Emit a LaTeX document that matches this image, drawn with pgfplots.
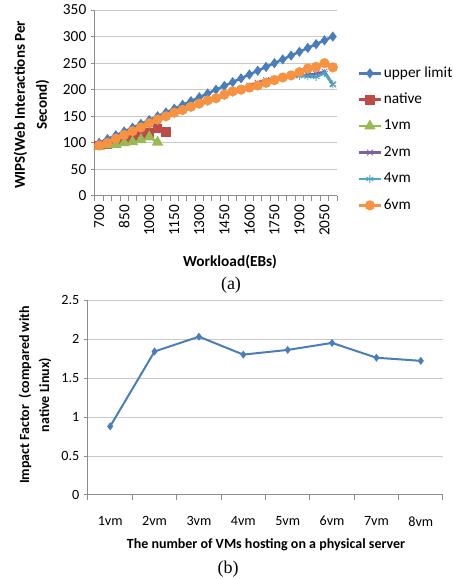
\documentclass[border=0pt]{standalone}
\usepackage{pgfplots}
\pgfplotsset{compat=1.18}
\usepackage{fontspec}
\setmainfont{Carlito}
\newfontfamily\timesfont{Liberation Serif}

\definecolor{xlblue}{HTML}{4A7EBB}
\definecolor{xlred}{HTML}{BE4B48}
\definecolor{xlgreen}{HTML}{98B954}
\definecolor{xlpurple}{HTML}{7D60A0}
\definecolor{xlcyan}{HTML}{46AAC5}
\definecolor{xlorange}{HTML}{F69240}
\definecolor{gridgray}{HTML}{C8C8C8}
\definecolor{axgray}{HTML}{8C8C8C}

\pgfplotsset{
  xlchart/.style={
    scale only axis,
    axis x line=bottom, axis y line=left,
    axis line style={-, axgray, line width=0.75pt},
    ymajorgrids, grid style={gridgray, line width=0.75pt},
    tick align=outside,
    tick style={axgray, line width=0.75pt},
    major x tick style={draw=none},
    major tick length=3pt, minor tick length=3.5pt,
    /pgf/number format/assume math mode=true,
    /pgf/number format/1000 sep={},
    clip=false,
  },
}

\begin{document}
\begin{tikzpicture}
% (a) WIPS against workload
\begin{axis}[xlchart,
  at={(71.25pt,287.25pt)}, anchor=south west,
  width=181.5pt, height=139.5pt,
  xmin=675, xmax=2125, ymin=0, ymax=350,
  xtick={700,850,...,2050},
  minor xtick={675,725,...,2125},
  ytick={0,50,...,350},
  tick label style={font=\fontsize{11.5}{13}\selectfont},
  xticklabel style={rotate=90, anchor=east},
  xlabel={Workload(EBs)},
  xlabel style={font=\fontsize{11.5}{13}\selectfont\bfseries,
    at={(axis description cs:0.558,-0.355)}, anchor=center},
  ylabel={WIPS(Web Interactions Per\\Second)},
  ylabel style={font=\fontsize{11.3}{16.5}\selectfont\bfseries, align=center,
    at={(axis description cs:-0.263,0.49)}, anchor=center},
  legend style={at={(axis description cs:1.066,0.72)}, anchor=north west,
    draw=none, fill=none, font=\fontsize{11.5}{13}\selectfont,
    row sep=7.3pt, nodes={inner sep=1pt, text height=8pt, text depth=2.5pt}},
  legend cell align=left,
  every axis plot/.append style={line width=1.9pt},
]
\addplot[xlblue, mark=diamond*, mark size=2.3pt, mark options={solid}] coordinates {
(700,100)(750,107.1)(800,114.3)(850,121.4)(900,128.6)(950,135.7)(1000,142.9)
(1050,150)(1100,157.1)(1150,164.3)(1200,171.4)(1250,178.6)(1300,185.7)
(1350,192.9)(1400,200)(1450,207.1)(1500,214.3)(1550,221.4)(1600,228.6)
(1650,235.7)(1700,242.9)(1750,250)(1800,257.1)(1850,264.3)(1900,271.4)
(1950,278.6)(2000,285.7)(2050,292.9)(2100,300)};
\addplot[xlred, mark=square*, mark size=2.7pt] coordinates {
(700,95)(750,98)(800,102)(850,106)(900,111)(950,115)(1000,118)(1050,127)(1100,121)};
\addplot[xlgreen, mark=triangle*, mark size=3.1pt] coordinates {
(700,93)(750,96)(800,97)(850,100)(900,102)(950,106)(1000,111)(1050,101)};
\addplot[xlpurple, mark=x, mark size=3pt, mark options={line width=0.6pt}] coordinates {
(700,95)(750,100)(800,107)(850,114)(900,121)(950,128)(1000,135)(1050,142)
(1100,149)(1150,155)(1200,161)(1250,167)(1300,173)(1350,179)(1400,184)
(1450,190)(1500,196)(1550,202)(1600,208)(1650,213)(1700,218)(1750,221)
(1800,224)(1850,226)(1900,227)(1950,228)(2000,230)(2050,234)(2100,210)};
\addplot[xlcyan, mark=asterisk, mark size=3pt, mark options={line width=0.6pt}] coordinates {
(700,94)(750,99)(800,106)(850,113)(900,120)(950,127)(1000,134)(1050,141)
(1100,148)(1150,154)(1200,160)(1250,166)(1300,172)(1350,177)(1400,182)
(1450,188)(1500,194)(1550,199)(1600,204)(1650,209)(1700,214)(1750,218)
(1800,222)(1850,225)(1900,226)(1950,225)(2000,224)(2050,231)(2100,210)};
\addplot[xlorange, mark=*, mark size=2.8pt] coordinates {
(700,95)(750,100)(800,108)(850,115)(900,122)(950,129)(1000,137)(1050,144)
(1100,150)(1150,157)(1200,162)(1250,168)(1300,174)(1350,180)(1400,184)
(1450,191)(1500,197)(1550,200)(1600,204)(1650,208)(1700,213)(1750,218)
(1800,223)(1850,227)(1900,233)(1950,240)(2000,243)(2050,250)(2100,242)};
\legend{upper limit, native, 1vm, 2vm, 4vm, 6vm}
\end{axis}
\node[font=\timesfont\fontsize{13.5}{15}\selectfont] at (173.25pt,220.5pt) {(a)};

% (b) impact factor against number of VMs
\begin{axis}[xlchart,
  at={(66pt,63pt)}, anchor=south west,
  width=266.25pt, height=146.25pt,
  xmin=0.5, xmax=8.5, ymin=0, ymax=2.5,
  xtick={1,...,8},
  xticklabels={1vm,2vm,3vm,4vm,5vm,6vm,7vm,8vm},
  minor xtick={0.5,1.5,...,8.5},
  ytick={0,0.5,...,2.5},
  tick label style={font=\fontsize{10.6}{12}\selectfont},
  xticklabel style={yshift=-9.5pt},
  xlabel={The number of VMs hosting on a physical server},
  xlabel style={font=\fontsize{10.5}{12}\selectfont\bfseries,
    at={(axis description cs:0.5014,-0.256)}, anchor=center},
  ylabel={Impact Factor~~(compared with\\native Linux)},
  ylabel style={font=\fontsize{10.5}{15}\selectfont\bfseries, align=center,
    at={(axis description cs:-0.149,0.513)}, anchor=center},
]
\addplot[xlblue, line width=1.5pt, mark=diamond*, mark size=1.8pt] coordinates {
(1,0.88)(2,1.84)(3,2.03)(4,1.80)(5,1.86)(6,1.95)(7,1.76)(8,1.72)};
\end{axis}
\node[font=\timesfont\fontsize{13.5}{15}\selectfont] at (171pt,7.5pt) {(b)};

\pgfresetboundingbox
\path (0pt,0pt) rectangle (339.75pt,434.25pt);
\end{tikzpicture}
\end{document}
